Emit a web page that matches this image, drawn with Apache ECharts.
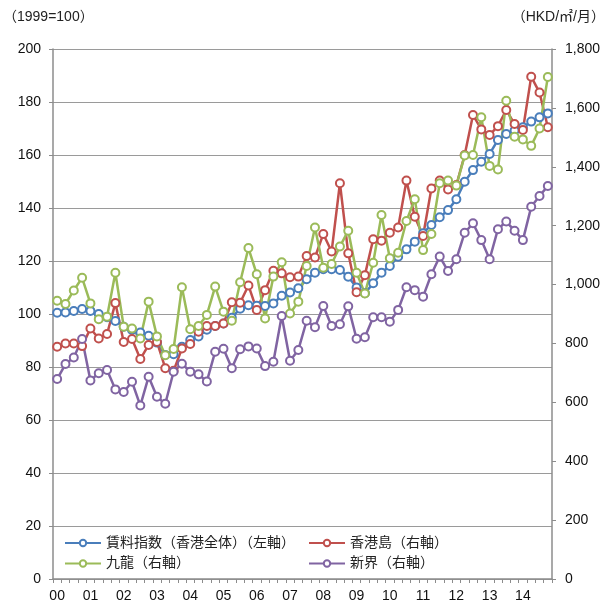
<!DOCTYPE html>
<html>
<head>
<meta charset="utf-8">
<script src="https://cdn.jsdelivr.net/npm/echarts@6/dist/echarts.min.js"></script>
<style>
  html, body { margin: 0; padding: 0; background: #fff; }
  #chart { width: 608px; height: 604px; }
</style>
</head>
<body>
<div id="chart"></div>
<script>
// Quarterly rents, 2000Q1 - 2014Q4
const years = ['00','01','02','03','04','05','06','07','08','09','10','11','12','13','14'];
const quarterNames = ['Q1','Q2','Q3','Q4'];

// Rent index, whole of Hong Kong (1999=100, left axis)
const indexAll = [100.5, 100.6, 101.1, 101.9, 101.1, 100.0, 98.8, 97.4, 95.2, 94.0,
  93.0, 91.8, 89.2, 84.5, 84.8, 87.6, 90.2, 91.5, 94.1, 95.5,
  96.4, 98.6, 102.0, 103.3, 103.1, 103.0, 104.0, 106.9, 108.1, 109.7,
  113.1, 115.6, 116.9, 116.9, 116.6, 114.1, 110.0, 107.8, 111.6, 115.6,
  118.1, 121.6, 124.4, 127.3, 130.5, 133.6, 136.5, 139.2, 143.3, 149.9,
  154.3, 157.5, 160.4, 165.7, 167.9, 169.2, 170.5, 172.6, 174.2, 175.7];

// Average rents by district (HKD per m2 per month, right axis)
const hkIsland = [789, 800, 800, 791, 851, 817, 832, 937, 805, 815,
  747, 795, 805, 716, 707, 783, 798, 840, 859, 859,
  868, 940, 938, 997, 914, 981, 1047, 1038, 1025, 1027,
  1097, 1092, 1172, 1112, 1344, 1106, 974, 1032, 1154, 1149,
  1176, 1194, 1353, 1230, 1165, 1326, 1353, 1323, 1338, 1440,
  1576, 1527, 1508, 1538, 1593, 1545, 1525, 1706, 1652, 1534];

const kowloon = [945, 934, 980, 1023, 936, 882, 891, 1040, 857, 851,
  817, 942, 824, 760, 781, 991, 848, 859, 897, 993,
  908, 877, 1008, 1124, 1035, 885, 1027, 1076, 902, 942,
  1063, 1194, 1057, 1070, 1129, 1183, 1040, 970, 1074, 1236,
  1089, 1108, 1216, 1290, 1117, 1172, 1344, 1353, 1336, 1438,
  1440, 1568, 1403, 1391, 1624, 1502, 1493, 1471, 1530, 1705];

const newTerritories = [679, 730, 752, 815, 674, 699, 710, 644, 635, 670,
  589, 687, 619, 595, 704, 731, 704, 695, 671, 772,
  782, 716, 780, 790, 783, 723, 738, 893, 741, 778,
  877, 855, 927, 859, 865, 926, 816, 821, 889, 889,
  874, 914, 991, 981, 959, 1035, 1095, 1046, 1086, 1176,
  1208, 1151, 1086, 1188, 1214, 1183, 1151, 1264, 1301, 1335];

const seriesNames = ['賃料指数（香港全体）（左軸）', '香港島（右軸）', '九龍（右軸）', '新界（右軸）'];
const leftTicks = { min: 0, max: 200, interval: 20 };
const rightTicks = { min: 0, max: 1800, interval: 200 };

const quarters = [];
years.forEach(y => quarterNames.forEach(q => quarters.push(y + q)));

const FONT = '"Liberation Sans", Arial, "Noto Sans CJK JP", sans-serif';
const AXIS_GRAY = '#8c8c8c';
const COLORS = ['#4a7ebb', '#c0504d', '#9bbb59', '#8064a2'];

function lineSeries(name, data, color, yAxisIndex) {
  return {
    name: name,
    type: 'line',
    data: data,
    yAxisIndex: yAxisIndex,
    symbol: 'emptyCircle',
    symbolSize: 8,
    showAllSymbol: true,
    lineStyle: { color: color, width: 2.5 },
    itemStyle: { color: color, borderWidth: 1.5 },
    emphasis: { disabled: true },
    animation: false
  };
}

const legendCommon = {
  orient: 'vertical', top: 531,
  itemWidth: 36, itemHeight: 8, itemGap: 6.5,
  textStyle: { fontSize: 14, color: '#222', fontFamily: FONT },
  selectedMode: false
};

const chart = echarts.init(document.getElementById('chart'), null, { renderer: 'canvas' });
chart.setOption({
  backgroundColor: '#fff',
  textStyle: { fontFamily: FONT },
  animation: false,
  grid: { left: 53, right: 56, top: 49, bottom: 25, containLabel: false },
  graphic: [
    { type: 'text', left: 3, top: 10,
      style: { text: '（1999=100）', font: '14px ' + FONT, fill: '#222' } },
    { type: 'text', right: 3, top: 10,
      style: { text: '（HKD/㎡/月）', font: '14px ' + FONT, fill: '#222' } }
  ],
  legend: [
    Object.assign({ data: [seriesNames[0], seriesNames[2]], left: 59 }, legendCommon),
    Object.assign({ data: [seriesNames[1], seriesNames[3]], left: 303 }, legendCommon)
  ],
  xAxis: {
    type: 'category',
    data: quarters,
    boundaryGap: true,
    axisLine: { lineStyle: { color: AXIS_GRAY, width: 1.5 } },
    axisTick: { show: true, interval: 0, length: 4, lineStyle: { color: AXIS_GRAY } },
    axisLabel: {
      interval: 3, margin: 10, fontSize: 14, color: '#111', fontFamily: FONT,
      formatter: v => v.slice(0, 2)
    },
    splitLine: { show: false }
  },
  yAxis: [
    {
      type: 'value', position: 'left',
      min: leftTicks.min, max: leftTicks.max, interval: leftTicks.interval,
      axisLine: { show: true, lineStyle: { color: AXIS_GRAY, width: 1.5 } },
      axisTick: { show: true, length: 4, lineStyle: { color: AXIS_GRAY } },
      axisLabel: { margin: 12, fontSize: 14, color: '#111', fontFamily: FONT },
      splitLine: { show: true, lineStyle: { color: '#9a9a9a', width: 1 } }
    },
    {
      type: 'value', position: 'right',
      min: rightTicks.min, max: rightTicks.max, interval: rightTicks.interval,
      axisLine: { show: true, lineStyle: { color: AXIS_GRAY, width: 1.5 } },
      axisTick: { show: true, length: 4, lineStyle: { color: AXIS_GRAY } },
      axisLabel: {
        margin: 13, fontSize: 14, color: '#111', fontFamily: FONT,
        formatter: v => v.toLocaleString('en-US')
      },
      splitLine: { show: false }
    }
  ],
  series: [
    lineSeries(seriesNames[0], indexAll, COLORS[0], 0),
    lineSeries(seriesNames[1], hkIsland, COLORS[1], 1),
    lineSeries(seriesNames[2], kowloon, COLORS[2], 1),
    lineSeries(seriesNames[3], newTerritories, COLORS[3], 1)
  ]
});
</script>
</body>
</html>
